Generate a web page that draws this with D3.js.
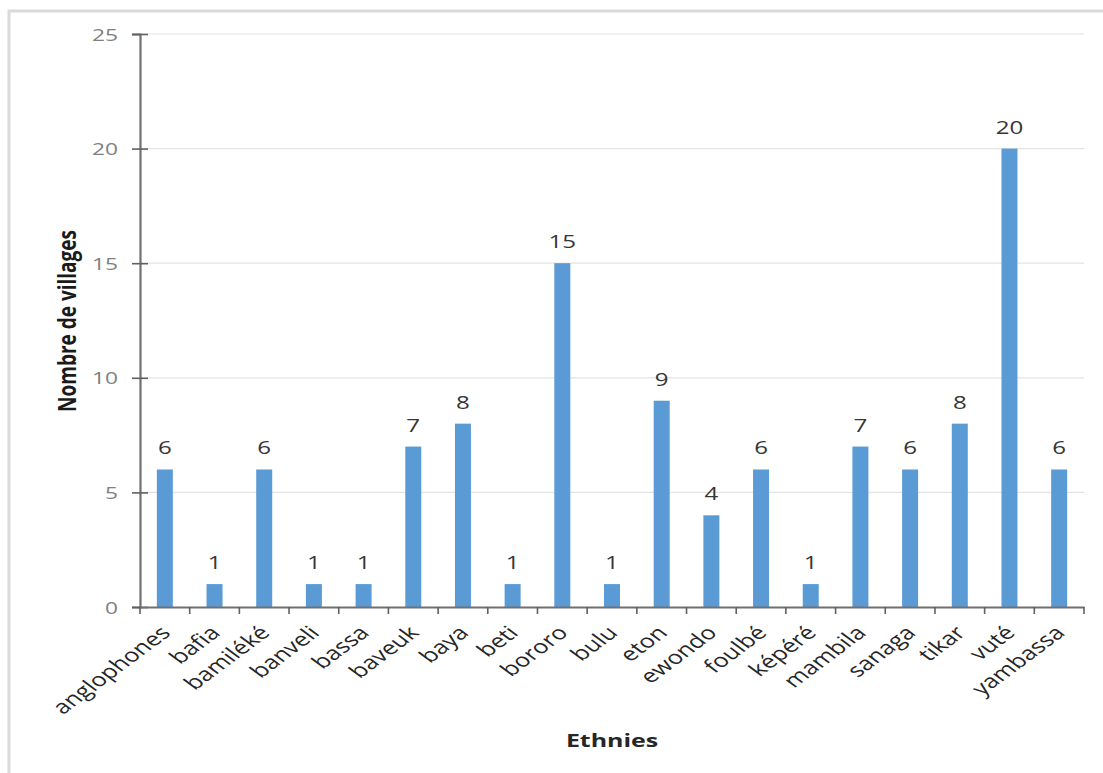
<!DOCTYPE html>
<html>
<head>
<meta charset="utf-8">
<script src="https://cdn.jsdelivr.net/npm/d3@7"></script>
<style>
  html, body { margin: 0; padding: 0; background: #fff; }
  svg { display: block; }
</style>
</head>
<body>
<svg id="chart" width="1103" height="773"></svg>
<script>
const categories = ["anglophones","bafia","bamiléké","banveli","bassa","baveuk","baya","beti","bororo","bulu","eton","ewondo","foulbé","képéré","mambila","sanaga","tikar","vuté","yambassa"];
const values = [6,1,6,1,1,7,8,1,15,1,9,4,6,1,7,6,8,20,6];
const yTicks = [0,5,10,15,20,25];
const xTitle = "Ethnies";
const yTitle = "Nombre de villages";

(function () {
const SX = 1.34; // horizontal stretch of the original picture
const svg = d3.select("#chart");
const FONT = "'Open Sans', 'Noto Sans', sans-serif";

// frame
svg.append("rect").attr("x", 9).attr("y", 11).attr("width", 1200).attr("height", 1000)
  .attr("fill", "none").attr("stroke", "#dadada").attr("stroke-width", 3);

const pL = 140, pR = 1084, pT = 34, pB = 607;
const x = d3.scaleBand().domain(categories).range([pL, pR]).paddingInner(0.678).paddingOuter(0.339);
const xb = d3.scaleBand().domain(categories).range([pL, pR]);
const y = d3.scaleLinear().domain([0, 25]).range([pB, pT]);

// gridlines
svg.append("g").selectAll("line").data(yTicks.filter(d => d > 0)).join("line")
  .attr("x1", pL).attr("x2", pR)
  .attr("y1", d => y(d)).attr("y2", d => y(d))
  .attr("stroke", "#e3e3e3").attr("stroke-width", 1.2);

// bars
svg.append("g").selectAll("rect").data(values).join("rect")
  .attr("x", (d, i) => x(categories[i]))
  .attr("width", x.bandwidth())
  .attr("y", d => y(d))
  .attr("height", d => y(0) - y(d))
  .attr("fill", "#5b9bd5");

// value labels
svg.append("g").selectAll("text").data(values).join("text")
  .attr("transform", (d, i) => `translate(${x(categories[i]) + x.bandwidth() / 2},${y(d) - 15}) scale(${SX},1)`)
  .attr("text-anchor", "middle")
  .attr("font-family", FONT).attr("font-weight", 500).attr("font-size", 18)
  .attr("fill", "#363636")
  .text(d => d);

// y axis
const yAxis = svg.append("g").attr("transform", `translate(${pL},0)`)
  .call(d3.axisLeft(y).tickValues(yTicks).tickSize(8).tickFormat(d3.format("d")));
yAxis.select(".domain").attr("stroke", "#707070").attr("stroke-width", 2.2);
yAxis.selectAll(".tick line").attr("x1", -8).attr("x2", 8).attr("stroke", "#606060").attr("stroke-width", 1.6);
yAxis.selectAll(".tick text").remove();
yAxis.selectAll(".tick").append("text")
  .attr("transform", `translate(-22,0) scale(${SX},1)`)
  .attr("text-anchor", "end").attr("dy", "0.36em")
  .attr("font-family", FONT).attr("font-size", 17).attr("fill", "#808080")
  .text(d => d);

// x axis
const xAxis = svg.append("g").attr("transform", `translate(0,${pB})`)
  .call(d3.axisBottom(xb).tickSize(0).tickFormat(""));
xAxis.select(".domain").attr("stroke", "#707070").attr("stroke-width", 2.2);
xAxis.selectAll(".tick").remove();
const bounds = categories.map(c => xb(c)).concat([pR]);
xAxis.append("g").selectAll("line").data(bounds).join("line")
  .attr("x1", d => d).attr("x2", d => d).attr("y1", 0).attr("y2", 7)
  .attr("stroke", "#606060").attr("stroke-width", 1.6);

// category labels
svg.append("g").selectAll("text").data(categories).join("text")
  .attr("transform", d => `translate(${xb(d) + xb.bandwidth() / 2 + 7},634) scale(${SX},1) rotate(-45)`)
  .attr("text-anchor", "end")
  .attr("font-family", FONT).attr("font-size", 19).attr("fill", "#262626")
  .text(d => d);

// axis titles
svg.append("text")
  .attr("transform", `translate(612,747) scale(${SX},1)`)
  .attr("text-anchor", "middle")
  .attr("font-family", FONT).attr("font-weight", 700).attr("font-size", 18.6).attr("fill", "#262626")
  .text(xTitle);

svg.append("text")
  .attr("transform", `translate(76,321) scale(${SX},1) rotate(-90)`)
  .attr("text-anchor", "middle")
  .attr("font-family", FONT).attr("font-weight", 700).attr("font-size", 19).attr("fill", "#1a1a1a")
  .text(yTitle);
})();
</script>
</body>
</html>
